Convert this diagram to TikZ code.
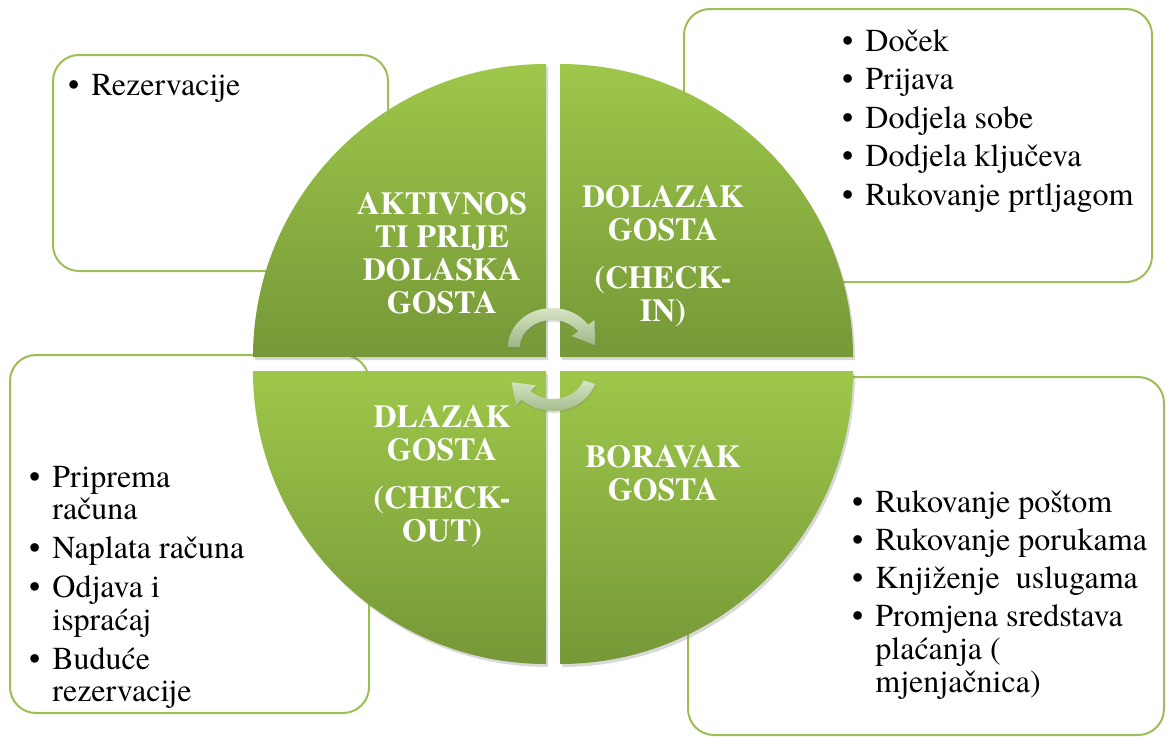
\documentclass[tikz,border=0pt]{standalone}
\usepackage{fontspec}
\setmainfont{texgyretermes-regular.otf}[BoldFont=texgyretermes-bold.otf]
\usetikzlibrary{calc, shadows}

\definecolor{qlight}{RGB}{158,199,74}
\definecolor{qdark}{RGB}{118,152,56}
\definecolor{frame}{RGB}{155,190,85}
\definecolor{arrlight}{RGB}{214,228,196}
\definecolor{arrdark}{RGB}{157,181,131}

\begin{document}
\begin{tikzpicture}[
  x=1pt, y=-1pt,
  infobox/.style={draw=frame, line width=2pt, fill=white,
                  rounded corners=26pt, inner sep=0pt},
  quad/.style={top color=qlight, bottom color=qdark, draw=none,
               drop shadow={opacity=0.3, shadow xshift=2pt, shadow yshift=-3pt}},
  title/.style={text=white, inner sep=0pt, anchor=base,
                font=\bfseries\fontsize{32}{33}\selectfont},
  items/.style={inner sep=0pt, anchor=base west},
  turn/.style={top color=arrlight, bottom color=arrdark, draw=none,
               drop shadow={opacity=0.25, shadow xshift=1pt, shadow yshift=-2pt}},
]
\useasboundingbox (0,0) rectangle (1166,736);

% Okviri s popisima (iza kruga)
\node[infobox, minimum width=335pt, minimum height=216pt] (preBox)  at (220.5,163) {};
\node[infobox, minimum width=468pt, minimum height=273pt] (inBox)   at (918,145.5) {};
\node[infobox, minimum width=359pt, minimum height=358pt] (outBox)  at (189.5,534) {};
\node[infobox, minimum width=476pt, minimum height=358pt] (stayBox) at (926,556) {};

% Cetiri kvadranta
\path[quad] (546,357) -- (253,357) arc[start angle=180, end angle=270, radius=293] -- cycle;
\path[quad] (560,357) -- (560,64)  arc[start angle=270, end angle=360, radius=293] -- cycle;
\path[quad] (546,371) -- (253,371) arc[start angle=180, end angle=90,  radius=293] -- cycle;
\path[quad] (560,371) -- (853,371) arc[start angle=0,   end angle=90,  radius=293] -- cycle;

% Naslovi faza
\node[title] (preTitle)  at (442,214) {\begin{tabular}[t]{@{}c@{}}AKTIVNOS\\TI PRIJE\\DOLASKA\\GOSTA\end{tabular}};
\node[title] (inTitle)   at (663,207) {\begin{tabular}[t]{@{}c@{}}DOLAZAK\\GOSTA\\[15pt](CHECK-\\IN)\end{tabular}};
\node[title] (outTitle)  at (442,427) {\begin{tabular}[t]{@{}c@{}}DLAZAK\\GOSTA\\[15pt](CHECK-\\OUT)\end{tabular}};
\node[title] (stayTitle) at (663,467) {\begin{tabular}[t]{@{}c@{}}BORAVAK\\GOSTA\end{tabular}};

% Popisi aktivnosti
\node[items, font=\fontsize{32}{38.5}\selectfont] (preList) at (68,95)
  {\begin{tabular}[t]{@{}l@{\hspace{12pt}}l@{}}\textbullet & Rezervacije\end{tabular}};
\node[items, font=\fontsize{32}{38.5}\selectfont] (inList) at (842,51)
  {\begin{tabular}[t]{@{}l@{\hspace{12pt}}l@{}}
   \textbullet & Doček\\
   \textbullet & Prijava\\
   \textbullet & Dodjela sobe\\
   \textbullet & Dodjela ključeva\\
   \textbullet & Rukovanje prtljagom
   \end{tabular}};
\node[items, font=\fontsize{32}{32.5}\selectfont] (outList) at (29,487)
  {\begin{tabular}[t]{@{}l@{\hspace{12pt}}l@{}}
   \textbullet & Priprema\\ & računa\\[6.5pt]
   \textbullet & Naplata računa\\[6.5pt]
   \textbullet & Odjava i\\ & ispraćaj\\[6.5pt]
   \textbullet & Buduće\\ & rezervacije
   \end{tabular}};
\node[items, font=\fontsize{32}{33}\selectfont] (stayList) at (852,512)
  {\begin{tabular}[t]{@{}l@{\hspace{12pt}}l@{}}
   \textbullet & Rukovanje poštom\\[5pt]
   \textbullet & Rukovanje porukama\\[5pt]
   \textbullet & Knjiženje\ \ uslugama\\[5pt]
   \textbullet & Promjena sredstava\\ & plaćanja (\\ & mjenjačnica)
   \end{tabular}};

% Kruzne strelice u sredini
\coordinate (cUp)   at (552,347);
\coordinate (cDown) at (553,372);
\path[turn] ($(cUp)+(-180:44 and 39)$)
    arc[start angle=-180, end angle=-35, x radius=44, y radius=39]
    -- ($(cUp)+(-35:52 and 47)$) -- ($(cUp)+(-3:43 and 37)$)
    -- ($(cUp)+(-35:24 and 19)$) -- ($(cUp)+(-35:32 and 27)$)
    arc[start angle=-35, end angle=-180, x radius=32, y radius=27] -- cycle;
\path[turn] ($(cDown)+(-342:44 and 39)$)
    arc[start angle=-342, end angle=-225, x radius=44, y radius=39]
    -- ($(cDown)+(-225:52 and 47)$) -- ($(cDown)+(-196:43 and 37)$)
    -- ($(cDown)+(-225:24 and 19)$) -- ($(cDown)+(-225:32 and 27)$)
    arc[start angle=-225, end angle=-342, x radius=32, y radius=27] -- cycle;
\end{tikzpicture}
\end{document}
